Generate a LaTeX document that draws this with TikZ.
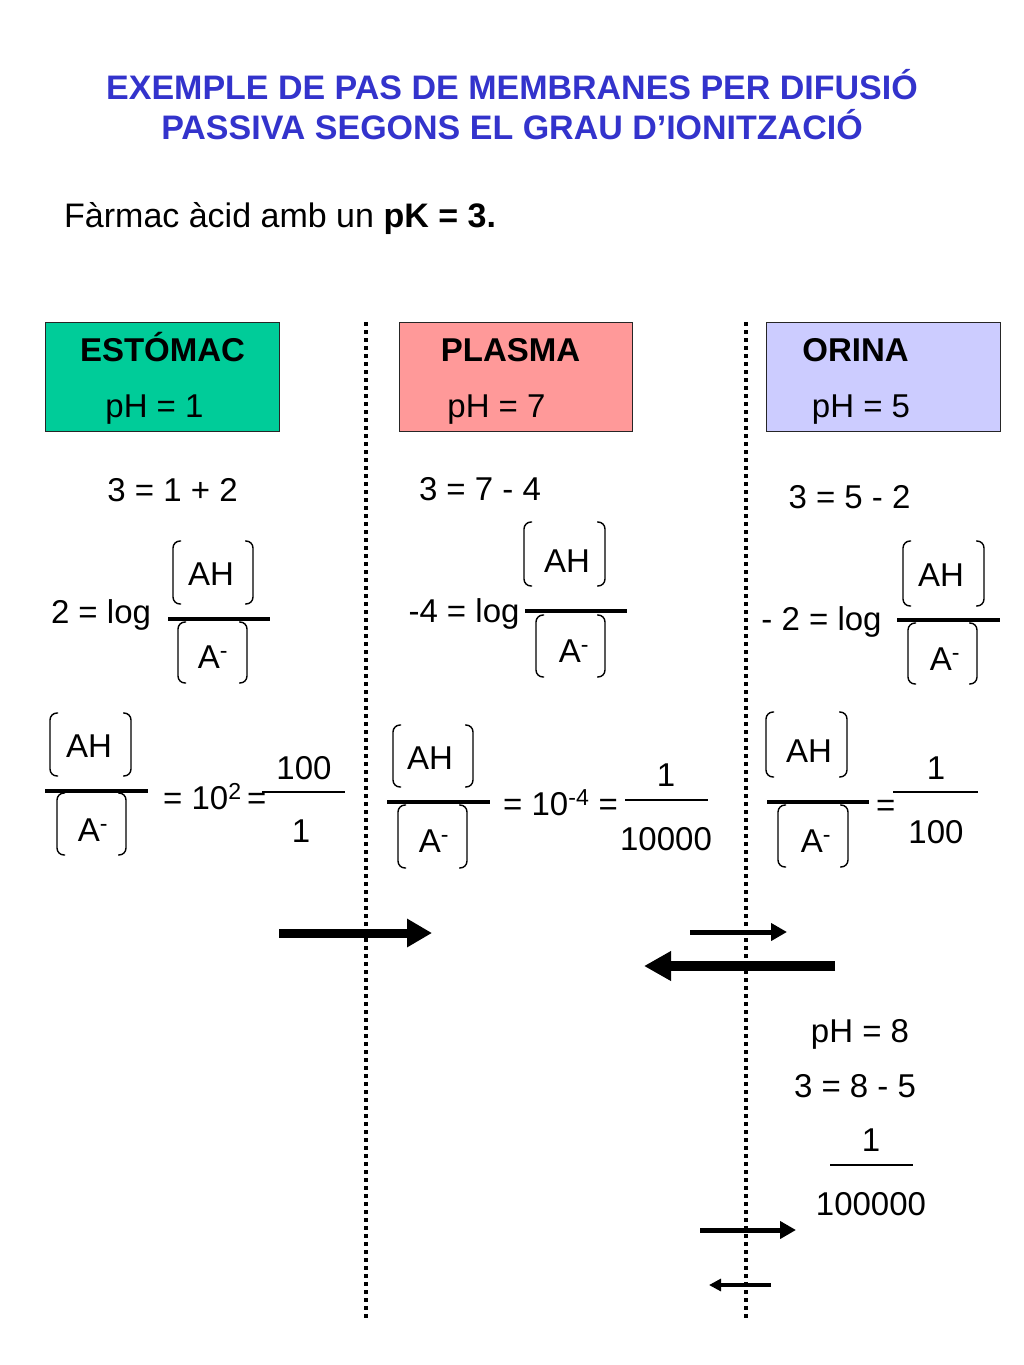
\documentclass[tikz,border=0pt]{standalone}
\usepackage{fontspec}
\setmainfont{Liberation Sans}
\usetikzlibrary{arrows.meta}
\definecolor{titleblue}{RGB}{51,51,204}
\definecolor{stomachc}{RGB}{0,204,153}
\definecolor{plasmac}{RGB}{255,153,153}
\definecolor{orinac}{RGB}{204,204,255}
\newcommand\brkpair[4]{%
  \draw[brk] (#1+8,#3) -- (#1,#3) -- (#1,#4) -- (#1+8,#4);
  \draw[brk] (#2-8,#3) -- (#2,#3) -- (#2,#4) -- (#2-8,#4);}
\tikzset{
  txt/.style={font=\fontsize{33}{40}\selectfont, inner sep=0pt, anchor=base},
  txtw/.style={txt, anchor=base west},
  bld/.style={font=\fontsize{33}{40}\selectfont\bfseries, inner sep=0pt, anchor=base},
  ttl/.style={font=\fontsize{34}{40}\selectfont\bfseries, inner sep=0pt, anchor=base, text=titleblue},
  hdr/.style={draw=black!85, line width=1.2pt, inner sep=0pt, anchor=north west},
  membrane/.style={line width=4pt, dash pattern=on 4pt off 4pt},
  fbar/.style={line width=4pt},
  thinbar/.style={line width=1.3pt},
  brk/.style={line width=1.4pt, rounded corners=7pt},
  bigarrow/.style={line width=9pt, -{Triangle[length=25pt,width=27pt]}},
  midarrow/.style={line width=5pt, -{Triangle[length=16pt,width=17pt]}},
  smallarrow/.style={line width=3.5pt, -{Triangle[length=12pt,width=12pt]}}
}
\begin{document}
\begin{tikzpicture}[x=1pt,y=-1pt]
\useasboundingbox (0,0) rectangle (1024,1365);
% title
\node[ttl] (t1) at (512,99) {EXEMPLE DE PAS DE MEMBRANES PER DIFUSIÓ};
\node[ttl] (t2) at (512,139) {PASSIVA SEGONS EL GRAU D’IONITZACIÓ};
\node[txtw, font=\fontsize{34}{40}\selectfont] (intro) at (64,227) {Fàrmac àcid amb un \textbf{pK = 3.}};
% membranes
\coordinate (m1a) at (366,322); \coordinate (m1b) at (366,1320);
\coordinate (m2a) at (746,322); \coordinate (m2b) at (746,1320);
\draw[membrane] (m1a) -- (m1b);
\draw[membrane] (m2a) -- (m2b);
% header boxes
\node[hdr, fill=stomachc, minimum width=234pt, minimum height=109pt] (boxS) at (45,322) {};
\node[hdr, fill=plasmac, minimum width=233pt, minimum height=109pt] (boxP) at (399,322) {};
\node[hdr, fill=orinac, minimum width=234pt, minimum height=109pt] (boxO) at (766,322) {};
\node[bld] (hS) at (162.5,361) {ESTÓMAC};
\node[txt] (pS) at (154.5,417) {pH = 1};
\node[bld] (hP) at (510.5,361) {PLASMA};
\node[txt] (pP) at (496.5,417) {pH = 7};
\node[bld] (hO) at (855.5,361) {ORINA};
\node[txt] (pO) at (861,417) {pH = 5};
% ---------- stomach column
\node[txt] (s1) at (172.5,501) {3 = 1 + 2};
\node[txt] (s2) at (101,623) {2 = log};
\node[txt] (sN1) at (211,585) {AH};
\brkpair{173}{253}{541}{604}
\draw[fbar] (168,619) -- (270,619);
\node[txt] (sD1) at (213,668) {A\textsuperscript{-}};
\brkpair{178}{247}{622}{683}
\node[txt] (sN2) at (89,757) {AH};
\brkpair{50}{131}{713}{776}
\draw[fbar] (45,791) -- (148,791);
\node[txt] (sD2) at (93,841) {A\textsuperscript{-}};
\brkpair{57}{126}{793}{855}
\node[txtw] (sEq) at (163,809) {= 10\textsuperscript{2}\,=};
\draw[thinbar] (262,792) -- (345,792);
\node[txt] (sF1) at (304,779) {100};
\node[txt] (sF2) at (301,842) {1};
% ---------- plasma column
\node[txt] (p1) at (480,500) {3 = 7 - 4};
\node[txt] (p2) at (464,622) {-4 = log};
\node[txt] (pN1) at (567,572) {AH};
\brkpair{524}{605}{522}{586}
\draw[fbar] (525,611) -- (627,611);
\node[txt] (pD1) at (574,662) {A\textsuperscript{-}};
\brkpair{536}{605}{615}{677}
\node[txt] (pN2) at (430,769) {AH};
\brkpair{393}{473}{725}{787}
\draw[fbar] (387,802) -- (490,802);
\node[txt] (pD2) at (434,852) {A\textsuperscript{-}};
\brkpair{398}{467}{805}{868}
\node[txtw] (pEq) at (503,815) {= 10\textsuperscript{-4} =};
\draw[thinbar] (625,800) -- (708,800);
\node[txt] (pF1) at (666,786) {1};
\node[txt] (pF2) at (666,850) {10000};
% ---------- orina column
\node[txt] (o1) at (849.5,508) {3 = 5 - 2};
\node[txt] (o2) at (821.5,630) {- 2 = log};
\node[txt] (oN1) at (941,586) {AH};
\brkpair{903}{984}{541}{606}
\draw[fbar] (897,620) -- (1000,620);
\node[txt] (oD1) at (945,670) {A\textsuperscript{-}};
\brkpair{908}{977}{623}{684}
\node[txt] (oN2) at (809,762) {AH};
\brkpair{766}{847}{712}{777}
\draw[fbar] (767,802) -- (869,802);
\node[txt] (oD2) at (816,852) {A\textsuperscript{-}};
\brkpair{778}{848}{805}{867}
\node[txtw] (oEq) at (876,816) {=};
\draw[thinbar] (893,792) -- (978,792);
\node[txt] (oF1) at (936,779) {1};
\node[txt] (oF2) at (936,843) {100};
% ---------- arrows
\coordinate (a1s) at (279,933); \coordinate (a1e) at (432,933);
\draw[bigarrow] (a1s) -- (a1e);
\coordinate (a2s) at (690,932); \coordinate (a2e) at (787,932);
\draw[midarrow] (a2s) -- (a2e);
\coordinate (a3s) at (835,966); \coordinate (a3e) at (644,966);
\draw[line width=10pt, -{Triangle[length=27pt,width=28pt]}] (a3s) -- (a3e);
% ---------- bottom: pH 8
\node[txt] (b1) at (860,1042) {pH = 8};
\node[txt] (b2) at (855,1097) {3 = 8 - 5};
\node[txt] (b3) at (871,1151) {1};
\draw[thinbar] (830,1165) -- (913,1165);
\node[txt] (b4) at (871,1215) {100000};
\coordinate (a4s) at (700,1230); \coordinate (a4e) at (796,1230);
\draw[midarrow] (a4s) -- (a4e);
\coordinate (a5s) at (771,1285); \coordinate (a5e) at (709,1285);
\draw[smallarrow] (a5s) -- (a5e);
\end{tikzpicture}
\end{document}
